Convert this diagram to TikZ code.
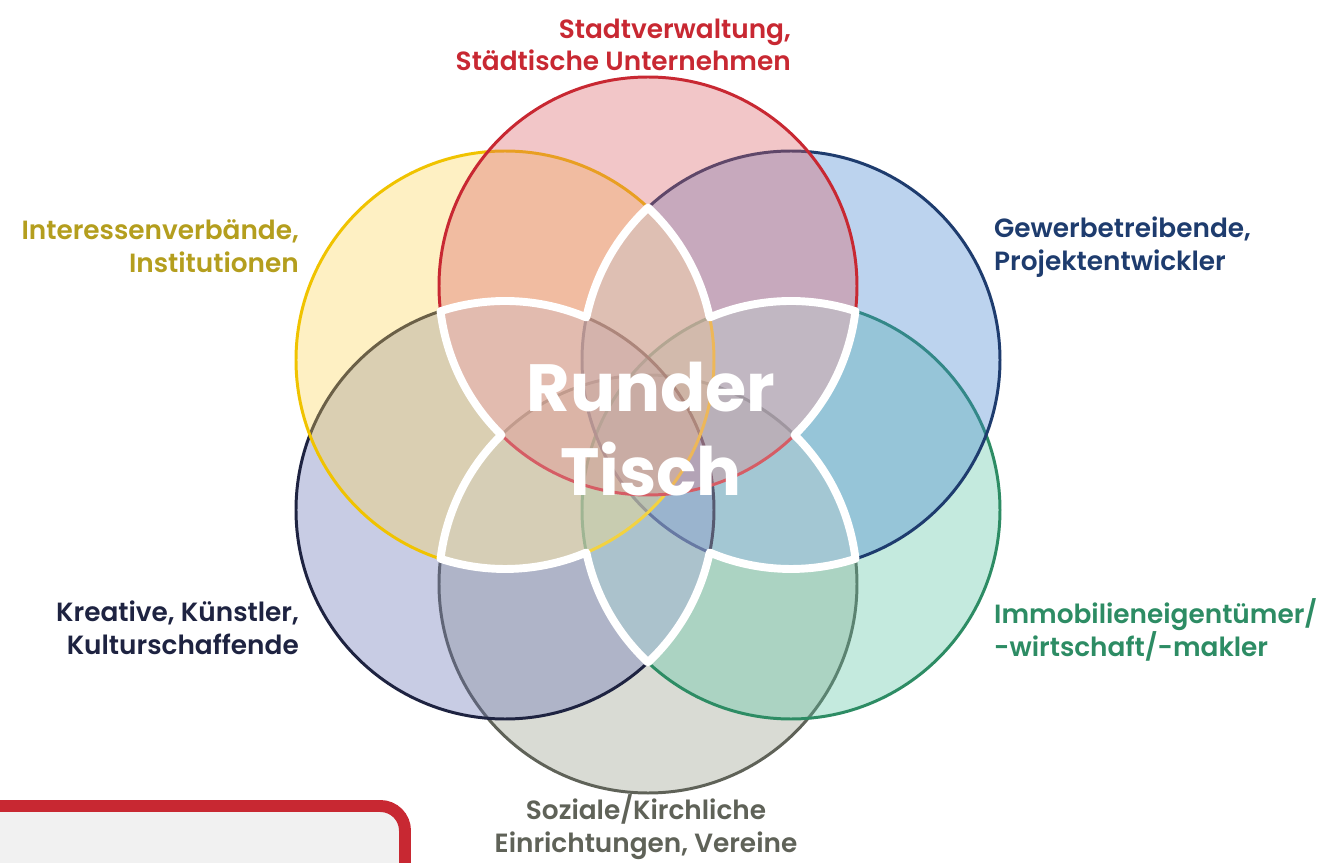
\documentclass[tikz,border=0pt]{standalone}
\usepackage{fontspec}
\setmainfont{Poppins}[BoldFont={Poppins SemiBold}]
\newfontfamily\dickfont{Poppins Bold}
\usepackage{tikz}

% colours of the six groups
\definecolor{stadtL}{RGB}{200,40,50}
\definecolor{stadtF}{RGB}{218,92,98}
\definecolor{gewerbeL}{RGB}{30,60,110}
\definecolor{gewerbeF}{RGB}{64,129,206}
\definecolor{immoL}{RGB}{45,140,100}
\definecolor{immoF}{RGB}{86,195,161}
\definecolor{sozialL}{RGB}{95,98,88}
\definecolor{sozialF}{RGB}{146,152,132}
\definecolor{kulturL}{RGB}{30,35,65}
\definecolor{kulturF}{RGB}{98,109,178}
\definecolor{verbandL}{RGB}{240,195,0}
\definecolor{verbandF}{RGB}{252,212,84}
\definecolor{verbandT}{RGB}{180,158,30}
\definecolor{kastengrau}{RGB}{241,241,241}

\tikzset{
  kreis/.style={fill opacity=0.35, line width=1.7pt},
  gruppe/.style={font=\bfseries\fontsize{15}{18.5}\selectfont},
  blume/.style={draw=white, line width=4.5pt, fill=white, fill opacity=0.25, line join=round},
  mitte/.style={text=white, align=center, font=\dickfont\fontsize{38}{48}\selectfont},
  kasten/.style={draw=stadtL, fill=kastengrau, line width=6.8pt, rounded corners=14pt}
}

\begin{document}
\begin{tikzpicture}[x=0.02cm, y=0.02cm]
\useasboundingbox (-648,-427) rectangle (673,435);

% centres of the circles
\coordinate (stadt) at (0,149);
\coordinate (gewerbe) at (143,75);
\coordinate (immo) at (143,-75);
\coordinate (sozial) at (0,-149);
\coordinate (kultur) at (-143,-75);
\coordinate (verband) at (-143,75);

% Drawing circles
\draw[kreis, fill=sozialF, draw=sozialL] (sozial) circle[radius=209];
\draw[kreis, fill=immoF, draw=immoL] (immo) circle[radius=209];
\draw[kreis, fill=gewerbeF, draw=gewerbeL] (gewerbe) circle[radius=209];
\draw[kreis, fill=kulturF, draw=kulturL] (kultur) circle[radius=209];
\draw[kreis, fill=verbandF, draw=verbandL] (verband) circle[radius=209];
\draw[kreis, fill=stadtF, draw=stadtL] (stadt) circle[radius=209];

% Drawing the white flower
\draw[blume] (0,227.42)
  arc[start angle=133.17, end angle=168.26, radius=209]
  arc[start angle=67.09, end angle=107.97, radius=209]
  arc[start angle=186.92, end angle=225.47, radius=209]
  arc[start angle=134.53, end angle=173.08, radius=209]
  arc[start angle=-107.97, end angle=-67.09, radius=209]
  arc[start angle=-168.26, end angle=-133.17, radius=209]
  arc[start angle=-46.83, end angle=-11.74, radius=209]
  arc[start angle=-112.91, end angle=-72.03, radius=209]
  arc[start angle=6.92, end angle=45.47, radius=209]
  arc[start angle=-45.47, end angle=-6.92, radius=209]
  arc[start angle=72.03, end angle=112.91, radius=209]
  arc[start angle=11.74, end angle=46.83, radius=209] -- cycle;

\node[mitte] (tisch) at (3,6) {Runder\\Tisch};

% Drawing labels
\node[gruppe, text=stadtL, align=right, anchor=east] (stadt_txt) at (149,390) {Stadtverwaltung,\\Städtische Unternehmen};
\node[gruppe, text=verbandT, align=right, anchor=east] (verband_txt) at (-343,189) {Interessenverbände,\\Institutionen};
\node[gruppe, text=gewerbeL, align=left, anchor=west] (gewerbe_txt) at (340,188) {Gewerbetreibende,\\Projektentwickler};
\node[gruppe, text=kulturL, align=right, anchor=east] (kultur_txt) at (-343,-193) {Kreative, Künstler,\\Kulturschaffende};
\node[gruppe, text=immoL, align=left, anchor=west] (immo_txt) at (340,-195) {Immobilieneigentümer/\\-wirtschaft/-makler};
\node[gruppe, text=sozialL, align=center] (sozial_txt) at (-2,-392) {Soziale/Kirchliche\\Einrichtungen, Vereine};

% Drawing box at the bottom
\draw[kasten] (-700,-500) rectangle (-243,-371);
\end{tikzpicture}
\end{document}
